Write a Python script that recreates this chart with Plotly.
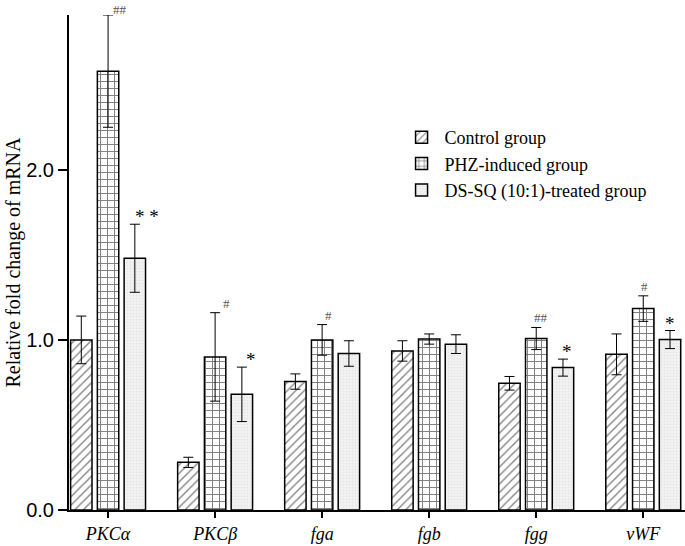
import plotly.graph_objects as go

genes = ["PKCα", "PKCβ", "fga", "fgb", "fgg", "vWF"]
series = ["Control group", "PHZ-induced group", "DS-SQ (10:1)-treated group"]

control = [1.00, 0.28, 0.755, 0.935, 0.745, 0.915]
control_err = [0.14, 0.03, 0.045, 0.06, 0.04, 0.12]
phz = [2.58, 0.90, 1.00, 1.005, 1.008, 1.184]
phz_err = [0.33, 0.26, 0.09, 0.03, 0.065, 0.075]
dssq = [1.48, 0.68, 0.92, 0.975, 0.837, 1.002]
dssq_err = [0.20, 0.16, 0.075, 0.055, 0.05, 0.053]

# significance marks: (gene index, series index, label)
marks = [(0, 1, "##"), (0, 2, "* *"), (1, 1, "#"), (1, 2, "*"), (2, 1, "#"),
         (4, 1, "##"), (4, 2, "*"), (5, 1, "#"), (5, 2, "*")]
mark_dx = [12, 12, 11, 9, 6, 5, 4, 1, 0]
mark_dy = [-4, -5, 0, -5, 0, 0, -5, 0, -5]

values = [control, phz, dssq]
errors = [control_err, phz_err, dssq_err]
patterns = [dict(shape="/", fgcolor="black", bgcolor="white", size=6, solidity=0.22),
            dict(shape="+", fgcolor="black", bgcolor="white", size=7, solidity=0.26),
            dict(shape=".", fgcolor="#d8d8d8", bgcolor="#f3f3f3", size=3, solidity=0.3)]
fills = ["white", "white", "#f0f0f0"]

fig = go.Figure()
xs = list(range(len(genes)))
for s in range(3):
    fig.add_trace(go.Bar(
        x=xs, y=values[s], name=series[s],
        marker=dict(color=fills[s], line=dict(color="black", width=1.5),
                    pattern=patterns[s]),
        error_y=dict(type="data", array=errors[s], color="black", thickness=1, width=5),
    ))

offsets = [-0.25, 0, 0.25]
for (g, s, lab), dx, dy in zip(marks, mark_dx, mark_dy):
    top = values[s][g] + errors[s][g]
    star = "*" in lab
    fig.add_annotation(
        x=g + offsets[s], y=top, xref="x", yref="y", text=lab, showarrow=False,
        xanchor="center", yanchor="bottom", xshift=dx, yshift=dy,
        font=dict(family="Liberation Serif", size=19 if star else 13,
                  color="black" if star else "#555555"),
    )

fig.update_layout(
    width=685, height=546,
    margin=dict(l=69, r=0, t=15, b=36),
    plot_bgcolor="white", paper_bgcolor="white",
    barmode="group", bargap=0.25, bargroupgap=0.2,
    showlegend=True,
    legend=dict(x=0.535, y=0.79, xanchor="left", yanchor="top",
                font=dict(family="Liberation Serif", size=18, color="black"),
                bgcolor="rgba(0,0,0,0)", tracegroupgap=0, itemwidth=36),
    xaxis=dict(range=[-0.365, 5.39], tickmode="array", tickvals=xs, ticktext=genes,
               showline=True, linecolor="black", linewidth=2, ticks="outside",
               ticklen=6, tickwidth=2, tickcolor="black", showgrid=False, zeroline=False,
               tickfont=dict(family="Liberation Serif", size=18, color="black",
                             style="italic")),
    yaxis=dict(range=[0, 2.91], tickvals=[0, 1, 2], ticktext=["0.0", "1.0", "2.0"],
               showline=True, linecolor="black", linewidth=2, ticks="outside",
               ticklen=9, tickwidth=2, tickcolor="black", showgrid=False, zeroline=False,
               tickfont=dict(family="Liberation Sans", size=20, color="black"),
               title=dict(text="Relative fold change of mRNA", standoff=0,
                          font=dict(family="Liberation Serif", size=20, color="black"))),
)

fig.write_html("out.html", config={"displayModeBar": False},
               post_script="document.body.style.margin='0';")
